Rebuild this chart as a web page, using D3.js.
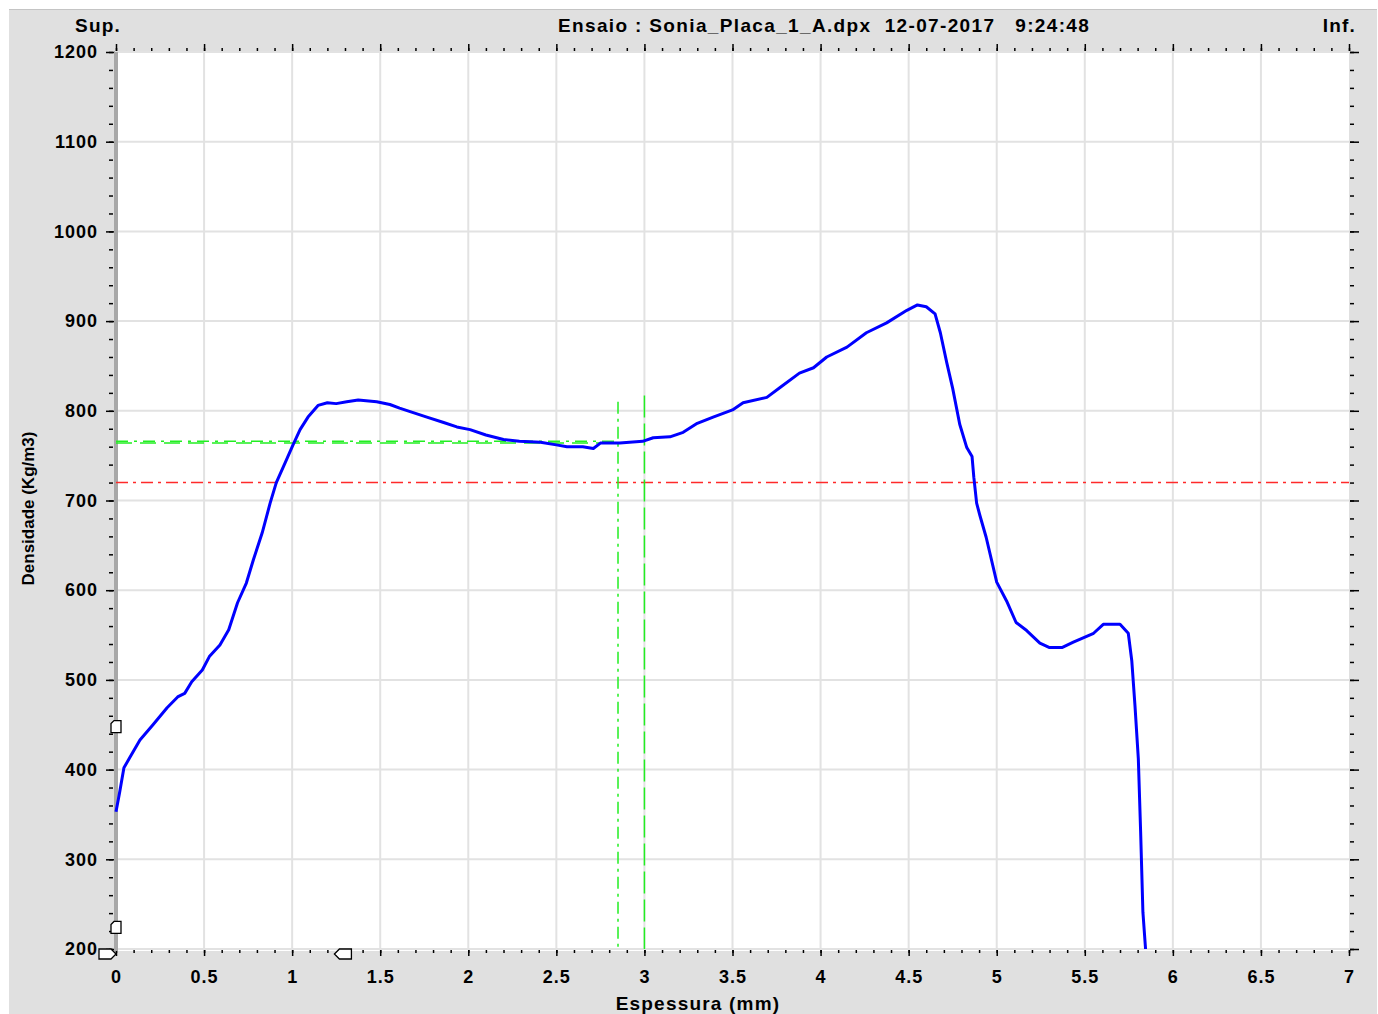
<!DOCTYPE html>
<html>
<head>
<meta charset="utf-8">
<script src="https://cdn.jsdelivr.net/npm/d3@7"></script>
<style>
body { margin: 0; background: #fff; }
svg text { font-family: "Liberation Sans", Arial, sans-serif; font-weight: bold; fill: #000; }
</style>
</head>
<body>
<svg id="chart" width="1378" height="1014"></svg>
<script>
// perfil de densidade (espessura mm -> densidade kg/m3)
const thickness = [0, 0.02, 0.045, 0.08, 0.136, 0.21, 0.29, 0.35, 0.39, 0.43, 0.49, 0.53, 0.59, 0.64, 0.69, 0.74, 0.78, 0.83, 0.875, 0.91,
	0.96, 1.005, 1.045, 1.09, 1.147, 1.2, 1.25, 1.31, 1.375, 1.48, 1.555, 1.61, 1.67, 1.765, 1.86, 1.935, 2.01, 2.1, 2.2, 2.29,
	2.41, 2.5, 2.56, 2.65, 2.71, 2.75, 2.86, 2.99, 3.05, 3.145, 3.22, 3.3, 3.39, 3.5, 3.56, 3.695, 3.77, 3.88, 3.96, 4.035,
	4.15, 4.26, 4.375, 4.49, 4.55, 4.6, 4.65, 4.68, 4.716, 4.75, 4.79, 4.83, 4.86, 4.87, 4.886, 4.905, 4.94, 5.0, 5.056, 5.11,
	5.17, 5.245, 5.3, 5.37, 5.435, 5.55, 5.605, 5.7, 5.747, 5.767, 5.785, 5.804, 5.817, 5.83, 5.845];
const density = [353, 374, 402, 414, 433, 450, 469, 481, 485, 498, 511, 526, 539, 556, 586, 608, 634, 664, 697, 720,
	742, 762, 779, 793, 806, 809, 808, 810, 812, 810, 807, 803, 799, 793, 787, 782, 779, 773, 768, 766,
	765, 762, 760, 760, 758, 764, 764, 766, 770, 771, 776, 786, 793, 801, 809, 815, 826, 842, 848, 860,
	871, 887, 898, 912, 918, 916, 908, 887, 854, 825, 785, 759, 749, 726, 697, 683, 659, 609, 588, 564,
	555, 541, 536, 536, 542, 552, 562, 562, 552, 521, 471, 412, 331, 241, 200];

const xTicks = [0, 0.5, 1, 1.5, 2, 2.5, 3, 3.5, 4, 4.5, 5, 5.5, 6, 6.5, 7];
const yTicks = [200, 300, 400, 500, 600, 700, 800, 900, 1000, 1100, 1200];

const refDensity = 720;          // linha vermelha
const meanDensity = [766, 764];  // linhas verdes horizontais
const meanEnd = 2.85;
const cursorX = [2.85, 3.0];     // cursores verdes
const cursorTop = [810, 817];
const yMarks = [448, 224];
const xMarks = [0, 1.24];

const title = "Ensaio : Sonia_Placa_1_A.dpx  12-07-2017   9:24:48";

let svg = d3.select("#chart");
let width = 1378, height = 1014;
let margin = {top: 52, right: 29, bottom: 65, left: 116};

let x = d3.scaleLinear().domain([0, 7]).range([margin.left, width - margin.right]);
let y = d3.scaleLinear().domain([200, 1200]).range([height - margin.bottom, margin.top]);

// fundo cinza
svg.append("rect")
	.attr("x", 9).attr("y", 9)
	.attr("width", width - 10).attr("height", height - 9)
	.attr("fill", "#e0e0e0");
svg.append("line")
	.attr("x1", 9).attr("x2", width - 1).attr("y1", 9.5).attr("y2", 9.5)
	.attr("stroke", "#c4c4c4");

// area do grafico
svg.append("rect")
	.attr("x", x(0)).attr("y", y(1200))
	.attr("width", x(7) - x(0)).attr("height", y(200) - y(1200) + 2)
	.attr("fill", "#fff");

// grade
svg.append("g")
	.selectAll("line")
	.data(xTicks.slice(1, -1))
	.join("line")
	.attr("x1", d => x(d)).attr("x2", d => x(d))
	.attr("y1", y(1200)).attr("y2", y(200))
	.attr("stroke", "#e2e2e2").attr("stroke-width", 2);
svg.append("g")
	.selectAll("line")
	.data(yTicks)
	.join("line")
	.attr("x1", x(0)).attr("x2", x(7))
	.attr("y1", d => y(d)).attr("y2", d => y(d))
	.attr("stroke", "#e2e2e2").attr("stroke-width", 2);

// eixos
function styleAxis(g) {
	g.select(".domain").remove();
	g.selectAll("line").attr("stroke", "#000").attr("stroke-width", 1.5);
	g.selectAll("text").style("font-size", "18px").style("letter-spacing", "1px");
}
let fmt = d => String(d);

svg.append("g")
	.attr("transform", `translate(0,${y(200) + 1})`)
	.call(d3.axisBottom(x).tickValues(x.ticks(70)).tickSize(3).tickFormat(""))
	.call(styleAxis);
svg.append("g")
	.attr("transform", `translate(0,${y(200) + 1})`)
	.call(d3.axisBottom(x).tickValues(xTicks).tickSize(6).tickPadding(14).tickFormat(fmt))
	.call(styleAxis);
svg.append("g")
	.attr("transform", `translate(0,${y(1200) - 1})`)
	.call(d3.axisTop(x).tickValues(x.ticks(70)).tickSize(3).tickFormat(""))
	.call(styleAxis);
svg.append("g")
	.attr("transform", `translate(0,${y(1200) - 1})`)
	.call(d3.axisTop(x).tickValues(xTicks).tickSize(7).tickFormat(""))
	.call(styleAxis);

svg.append("g")
	.attr("transform", `translate(${x(0) - 3},0)`)
	.call(d3.axisLeft(y).tickValues(y.ticks(50)).tickSize(4).tickFormat(""))
	.call(styleAxis);
svg.append("g")
	.attr("transform", `translate(${x(0) - 1},0)`)
	.call(d3.axisLeft(y).tickValues(yTicks).tickSize(9).tickPadding(8).tickFormat(fmt))
	.call(styleAxis);
svg.append("g")
	.attr("transform", `translate(${x(7) + 1},0)`)
	.call(d3.axisRight(y).tickValues(y.ticks(50)).tickSize(4).tickFormat(""))
	.call(styleAxis);
svg.append("g")
	.attr("transform", `translate(${x(7) + 1},0)`)
	.call(d3.axisRight(y).tickValues(yTicks).tickSize(9).tickFormat(""))
	.call(styleAxis);

// linha do eixo esquerdo
svg.append("line")
	.attr("x1", x(0)).attr("x2", x(0))
	.attr("y1", y(1200)).attr("y2", y(200) + 2)
	.attr("stroke", "#a8a8a8").attr("stroke-width", 4);

// linhas de referencia
svg.append("line")
	.attr("x1", x(0)).attr("x2", x(7))
	.attr("y1", y(refDensity)).attr("y2", y(refDensity))
	.attr("stroke", "#ff2a2a").attr("stroke-width", 1.5)
	.attr("stroke-dasharray", "12,5,3,5");
svg.append("g")
	.selectAll("line")
	.data(meanDensity)
	.join("line")
	.attr("x1", x(0)).attr("x2", x(meanEnd))
	.attr("y1", d => y(d)).attr("y2", d => y(d))
	.attr("stroke", "#22ee22").attr("stroke-width", 1.5)
	.attr("stroke-dasharray", (d, i) => i == 0 ? "12,6,3,6" : "16,8");
svg.append("g")
	.selectAll("line")
	.data(cursorX)
	.join("line")
	.attr("x1", d => x(d)).attr("x2", d => x(d))
	.attr("y1", (d, i) => y(cursorTop[i])).attr("y2", y(200))
	.attr("stroke", "#22ee22").attr("stroke-width", 1.5)
	.attr("stroke-dasharray", (d, i) => i == 0 ? "12,5,3,5" : "22,6");

// curva de densidade
let line = d3.line()
	.x((d, i) => x(thickness[i]))
	.y(d => y(d));
svg.append("path")
	.datum(density)
	.attr("fill", "none")
	.attr("stroke", "#0000ff")
	.attr("stroke-width", 3)
	.attr("stroke-linejoin", "round")
	.attr("d", line);

// marcadores
svg.append("g")
	.selectAll("path")
	.data(yMarks)
	.join("path")
	.attr("transform", d => `translate(${x(0)},${y(d)})`)
	.attr("d", "M-5,6 L-5,-3 L-2,-6 L5,-6 L5,6 Z")
	.attr("fill", "#fff").attr("stroke", "#000").attr("stroke-width", 1.3);
svg.append("g")
	.selectAll("path")
	.data(xMarks)
	.join("path")
	.attr("transform", (d, i) => `translate(${x(d)},${y(200) + 5}) scale(${i == 0 ? 1 : -1},1)`)
	.attr("d", "M0,0 L-5,-5 L-17,-5 L-17,5 L-5,5 Z")
	.attr("fill", "#fff").attr("stroke", "#000").attr("stroke-width", 1.3);

// textos
svg.append("text")
	.attr("x", 98).attr("y", 32)
	.attr("text-anchor", "middle")
	.style("font-size", "19px").style("letter-spacing", "1.2px")
	.text("Sup.");
svg.append("text")
	.attr("x", 1356).attr("y", 32)
	.attr("text-anchor", "end")
	.style("font-size", "19px").style("letter-spacing", "1.2px")
	.text("Inf.");
svg.append("text")
	.attr("x", 558).attr("y", 32)
	.attr("xml:space", "preserve")
	.style("white-space", "pre")
	.style("font-size", "19px").style("letter-spacing", "1.35px")
	.text(title);
svg.append("text")
	.attr("x", 698).attr("y", 1010)
	.attr("text-anchor", "middle")
	.style("font-size", "19px").style("letter-spacing", "1.2px")
	.text("Espessura (mm)");
svg.append("text")
	.attr("transform", `translate(34,${(y(200) + y(1200)) / 2 + 8}) rotate(-90)`)
	.attr("text-anchor", "middle")
	.style("font-size", "17px")
	.text("Densidade (Kg/m3)");
</script>
</body>
</html>
